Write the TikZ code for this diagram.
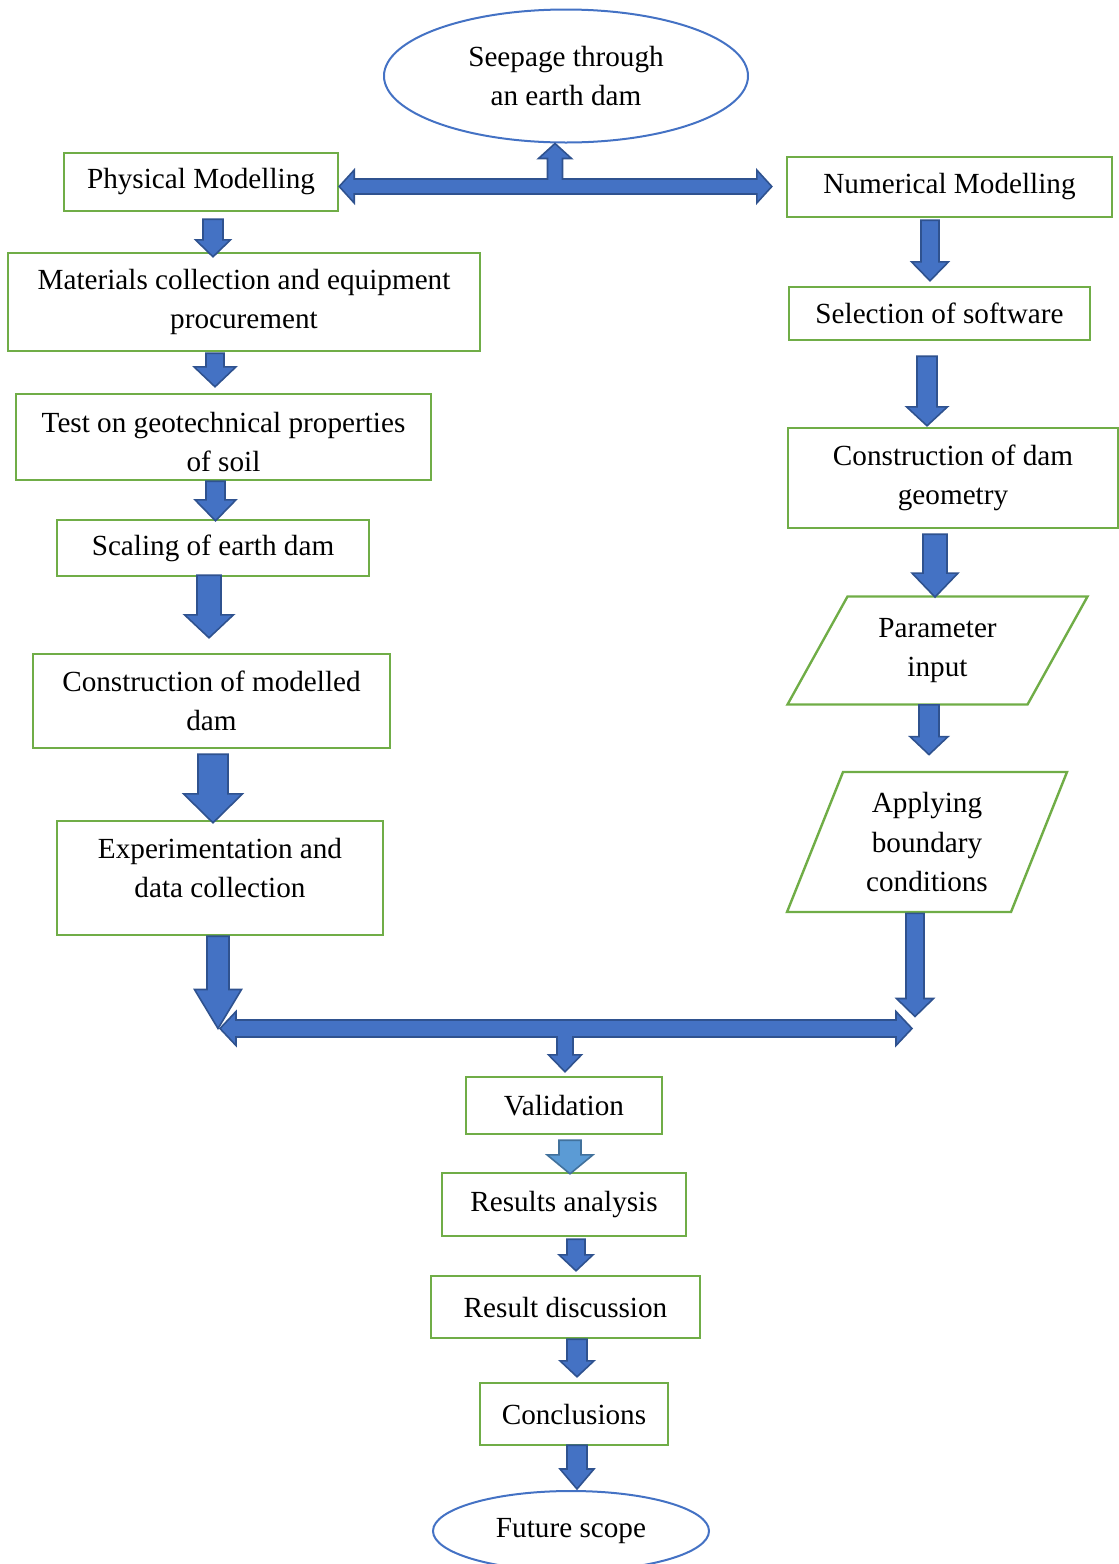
\documentclass[tikz,border=0pt]{standalone}
\usepackage{fontspec}
\setmainfont{Liberation Serif}
\usetikzlibrary{shapes.geometric, calc}

\definecolor{boxgreen}{HTML}{70AD47}
\definecolor{arrowblue}{HTML}{4472C4}
\definecolor{arrowedge}{HTML}{2F528F}
\definecolor{lightblue}{HTML}{5B9BD5}
\definecolor{lightedge}{HTML}{41719C}

\tikzset{
  box/.style={draw=boxgreen, line width=1.2pt, align=center, inner sep=0pt},
  oval/.style={ellipse, draw=arrowblue, line width=1pt, align=center, inner sep=0pt},
  slanted/.style={align=center, inner sep=0pt},
  boxline/.style={draw=boxgreen, line width=1.2pt},
  blockarrow/.style={fill=arrowblue, draw=arrowedge, line width=0.8pt, line join=miter},
  lightarrow/.style={fill=lightblue, draw=lightedge}
}

\newcommand{\fatarrow}[6][]{%
  \filldraw[blockarrow,#1] let \p1=#2, \p2=#3 in
    (\x1-#4*0.5pt,\y1) -- (\x1+#4*0.5pt,\y1) -- (\x1+#4*0.5pt,\y2+#6*0.5pt)
    -- (\x1+#5*0.5pt,\y2+#6*0.5pt) -- (\x1,\y2) -- (\x1-#5*0.5pt,\y2+#6*0.5pt)
    -- (\x1-#4*0.5pt,\y2+#6*0.5pt) -- cycle;}

\begin{document}
\begin{tikzpicture}[x=0.5pt, y=-0.5pt, font=\fontsize{14.6}{19.8}\selectfont]
\useasboundingbox (0,0) rectangle (1119,1564);

\node[oval, minimum width=182pt, minimum height=66.5pt](seep) at (566,76) {Seepage through\\an earth dam};
\node[box, minimum width=137pt, minimum height=29pt](phys) at (201,182) {Physical Modelling};
\node[box, minimum width=162.5pt, minimum height=30pt](num) at (949.5,187) {Numerical Modelling};

\node[box, minimum width=236pt, minimum height=49pt](mat) at (244,302) {Materials collection and equipment\\procurement};
\node[box, minimum width=207.5pt, minimum height=43pt, text height=35pt](test) at (223.5,437) {Test on geotechnical properties\\of soil};
\node[box, minimum width=156pt, minimum height=28pt](scal) at (213,548) {Scaling of earth dam};
\node[box, minimum width=178.5pt, minimum height=47pt](cmod) at (211.5,701) {Construction of modelled\\dam};
\node[box, minimum width=163pt, minimum height=57pt, text depth=10pt](expt) at (220,878) {Experimentation and\\data collection};

\node[box, minimum width=150.5pt, minimum height=26.5pt](soft) at (939.5,313.5) {Selection of software};
\node[box, minimum width=165pt, minimum height=50pt](geom) at (953,478) {Construction of dam\\geometry};
\node[slanted, minimum width=90pt, minimum height=54pt](param) at (937.5,650.5) {Parameter\\input};
\node[slanted, minimum width=90pt, minimum height=70pt](appl) at (927,842) {Applying\\boundary\\conditions};

\node[box, minimum width=98pt, minimum height=28.5pt](valid) at (564,1105.5) {Validation};
\node[box, minimum width=122pt, minimum height=31.5pt](resa) at (564,1204.5) {Results analysis};
\node[box, minimum width=134.5pt, minimum height=31pt](resd) at (565.5,1307) {Result discussion};
\node[box, minimum width=94pt, minimum height=31pt](concl) at (574,1414) {Conclusions};
\node[oval, minimum width=138pt, minimum height=40pt](fut) at (571,1531) {Future scope};

\draw[boxline] ($(param.center)+(-150,54)$) -- ($(param.center)+(90,54)$) -- ($(param.center)+(150,-54)$) -- ($(param.center)+(-90,-54)$) -- cycle;
\draw[boxline] ($(appl.center)+(-140,70)$) -- ($(appl.center)+(84,70)$) -- ($(appl.center)+(140,-70)$) -- ($(appl.center)+(-84,-70)$) -- cycle;

\coordinate (topj) at (555,186.5);
\coordinate (botj) at (565,1028.5);
\coordinate (botl) at (220,1028.5);
\coordinate (botr) at (912,1028.5);

\filldraw[blockarrow] let \p1=(phys.east), \p2=($(num.west)+(-14,0)$), \p3=(seep.south), \p4=(topj),
  \n1={7.5*0.5pt}, \n2={16.5*0.5pt}, \n3={15*0.5pt} in
  (\x1,\y4) -- (\x1+\n3,\y4+\n2) -- (\x1+\n3,\y4+\n1) -- (\x4-\n1,\y4+\n1) -- (\x4-\n1,\y3-\n3)
  -- (\x4-\n2,\y3-\n3) -- (\x4,\y3) -- (\x4+\n2,\y3-\n3) -- (\x4+\n1,\y3-\n3) -- (\x4+\n1,\y4+\n1)
  -- (\x2-\n3,\y4+\n1) -- (\x2-\n3,\y4+\n2) -- (\x2,\y4) -- (\x2-\n3,\y4-\n2) -- (\x2-\n3,\y4-\n1)
  -- (\x1+\n3,\y4-\n1) -- (\x1+\n3,\y4-\n2) -- cycle;

\filldraw[blockarrow] let \p1=(botl), \p2=(botr), \p3=($(valid.north)+(0,-4)$), \p4=(botj),
  \n1={8.5*0.5pt}, \n2={17*0.5pt}, \n3={16*0.5pt}, \n4={8*0.5pt}, \n5={16.5*0.5pt}, \n6={17*0.5pt} in
  (\x1,\y4) -- (\x1+\n3,\y4+\n2) -- (\x1+\n3,\y4+\n1) -- (\x2-\n3,\y4+\n1) -- (\x2-\n3,\y4+\n2)
  -- (\x2,\y4) -- (\x2-\n3,\y4-\n2) -- (\x2-\n3,\y4-\n1) -- (\x4+\n4,\y4-\n1) -- (\x4+\n4,\y3+\n6)
  -- (\x4+\n5,\y3+\n6) -- (\x4,\y3) -- (\x4-\n5,\y3+\n6) -- (\x4-\n4,\y3+\n6) -- (\x4-\n4,\y4-\n1)
  -- (\x1+\n3,\y4-\n1) -- (\x1+\n3,\y4-\n2) -- cycle;

\fatarrow{($(phys.south)+(12,7)$)}{($(mat.north)+(0,5)$)}{10}{17.5}{17}
\fatarrow{($(mat.south)+(-29,1)$)}{($(test.north)+(0,-6)$)}{9}{21}{20}
\fatarrow{($(test.south)+(-8,0)$)}{($(scal.north)+(0,2)$)}{9.5}{20.5}{21}
\fatarrow{($(scal.south)+(-4,-2)$)}{($(cmod.north)+(0,-15)$)}{12}{24.5}{23}
\fatarrow{($(cmod.south)+(1.5,5)$)}{($(expt.north)+(0,3)$)}{15}{29.5}{29}
\fatarrow{($(expt.south)+(-2,0)$)}{(botl)}{11}{23.5}{39}

\fatarrow{($(num.south)+(-19.5,2)$)}{($(soft.north)+(0,-5)$)}{9}{18.5}{19}
\fatarrow{($(soft.south)+(-12.5,15)$)}{($(geom.north)+(0,-1)$)}{10}{20.5}{19}
\fatarrow{($(geom.south)+(-18,5)$)}{($(param.north)+(0,1)$)}{12}{23}{24}
\fatarrow{($(param.south)+(-8.5,0)$)}{($(appl.north)+(0,-17)$)}{10}{19}{18}
\fatarrow{($(appl.south)+(-12,1)$)}{($(botr)+(0,-12)$)}{9}{18.5}{18}

\fatarrow[lightarrow]{($(valid.south)+(6,5)$)}{($(resa.north)+(0,2)$)}{11}{23}{19}
\fatarrow{($(resa.south)+(12,2)$)}{($(resd.north)+(0,-4)$)}{9}{17}{16}
\fatarrow{($(resd.south)+(11.5,0)$)}{($(concl.north)+(0,-5)$)}{10}{17}{16}
\fatarrow{($(concl.south)+(3,-1)$)}{($(fut.north)+(0,-1)$)}{10}{17}{20}
\end{tikzpicture}
\end{document}
